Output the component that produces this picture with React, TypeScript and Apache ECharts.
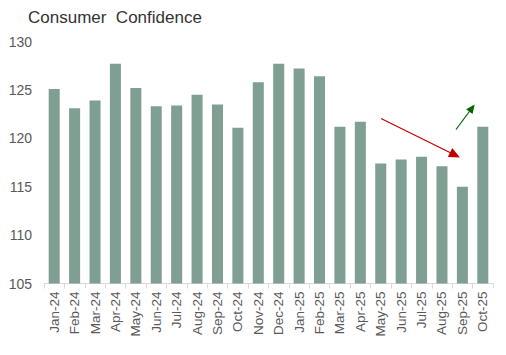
import React, { useEffect, useRef } from "react";
import * as echarts from "echarts";

const categories = [
  "Jan-24", "Feb-24", "Mar-24", "Apr-24", "May-24", "Jun-24", "Jul-24", "Aug-24",
  "Sep-24", "Oct-24", "Nov-24", "Dec-24", "Jan-25", "Feb-25", "Mar-25", "Apr-25",
  "May-25", "Jun-25", "Jul-25", "Aug-25", "Sep-25", "Oct-25",
];
const confidence = [
  125.1, 123.1, 123.9, 127.7, 125.2, 123.3, 123.4, 124.5, 123.5, 121.1, 125.8,
  127.7, 127.2, 126.4, 121.2, 121.7, 117.4, 117.8, 118.1, 117.1, 115.0, 121.2,
];
const yMin = 105;
const yMax = 130;
const yStep = 5;
const title = "Consumer  Confidence";

export default function App() {
  const ref = useRef<HTMLDivElement>(null);
  useEffect(() => {
    document.body.style.margin = "0";
    const chart = echarts.init(ref.current!, null, { renderer: "svg" });
    chart.setOption({
      animation: false,
      title: {
        text: title,
        left: 28,
        top: 9,
        padding: 0,
        textStyle: {
          fontFamily: "Liberation Sans, Arial, sans-serif",
          fontSize: 17,
          fontWeight: "normal",
          color: "#333333",
        },
      },
      grid: { left: 44, right: 13, top: 41.5, bottom: 71.5, containLabel: false },
      xAxis: {
        type: "category",
        data: categories,
        axisLine: { show: true, lineStyle: { color: "#d9d9d9", width: 1 } },
        axisTick: { show: true, length: 5, lineStyle: { color: "#d9d9d9" } },
        axisLabel: {
          rotate: 90,
          interval: 0,
          margin: 8,
          fontFamily: "Liberation Sans, Arial, sans-serif",
          fontSize: 13.5,
          color: "#595959",
        },
      },
      yAxis: {
        type: "value",
        min: yMin,
        max: yMax,
        interval: yStep,
        axisLine: { show: false },
        axisTick: { show: false },
        splitLine: { show: false },
        axisLabel: {
          margin: 12,
          fontFamily: "Liberation Sans, Arial, sans-serif",
          fontSize: 14,
          color: "#595959",
        },
      },
      series: [
        {
          type: "bar",
          data: confidence,
          barWidth: "54%",
          itemStyle: { color: "#7f9f93" },
          markLine: {
            silent: true,
            animation: false,
            label: { show: false },
            emphasis: { disabled: true },
            data: [
              [
                { x: 381, y: 118.5, symbol: "none", lineStyle: { color: "#c00000", width: 1.2, type: "solid" } },
                { x: 455, y: 155, symbol: "triangle", symbolSize: [10, 11] },
              ],
              [
                { x: 456, y: 129.5, symbol: "none", lineStyle: { color: "#006400", width: 1.2, type: "solid" } },
                { x: 472, y: 108, symbol: "triangle", symbolSize: [8, 9] },
              ],
            ],
          },
        },
      ],
    });
    return () => chart.dispose();
  }, []);
  return <div ref={ref} style={{ width: 506, height: 355 }} />;
}
